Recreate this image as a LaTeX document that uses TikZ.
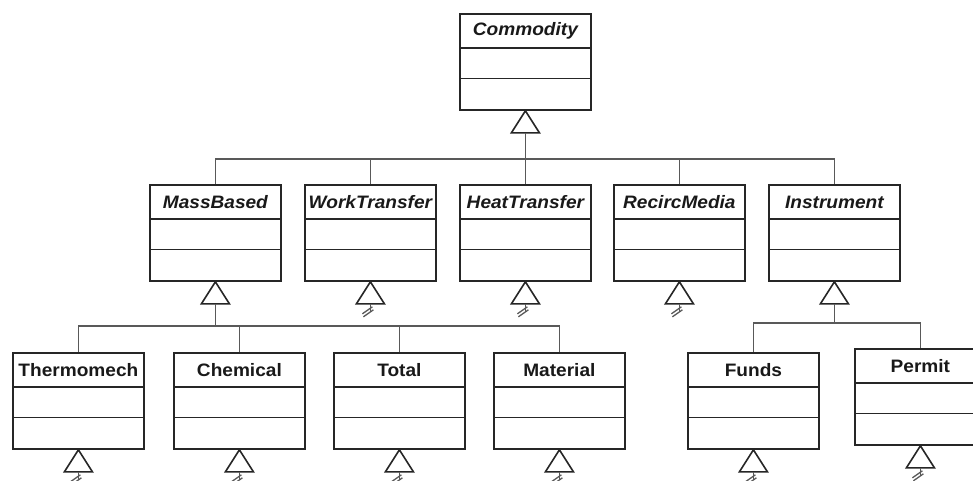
\documentclass[tikz,border=0pt]{standalone}
\usepackage{fontspec}
\setmainfont{Liberation Sans}[FakeStretch=1.06]
\usetikzlibrary{calc}
\tikzset{
  x=1pt, y=-1pt,
  classbox/.style={draw=black!85, line width=1.8pt, fill=white, rectangle, minimum width=131pt, minimum height=96pt, inner sep=0pt, anchor=north west},
  sepline/.style={draw=black!85, line width=1.6pt},
  titletext/.style={font=\fontsize{18}{18}\selectfont\bfseries, inner sep=0pt, text=black!90},
  conn/.style={draw=black!65, line width=1.3pt},
  tri/.style={draw=black!85, line width=1.6pt, fill=white, line join=miter},
}
\newcommand{\umlclass}[4]{%
  \node[classbox] (#1) at (#2) {};
  \draw[sepline] ([yshift=-35pt]#1.north west) -- ([yshift=-35pt]#1.north east);
  \draw[sepline] ([yshift=-65.5pt]#1.north west) -- ([yshift=-65.5pt]#1.north east);
  \node[titletext] (#1-t) at ([yshift=-18pt]#1.north) {#3#4};
}
\newcommand{\gen}[1]{%
  \coordinate (#1-b) at ([yshift=-22pt]#1.south);
  \draw[tri] (#1.south) -- ++(-14,22) -- ++(28,0) -- cycle;
}
\newcommand{\elide}[1]{%
  \draw[conn] (#1-b) -- ++(0,8);
  \draw[conn] ([shift={(-8,10)}]#1-b) -- ++(10,-7);
  \draw[conn] ([shift={(-7,13)}]#1-b) -- ++(10,-7);
}
\begin{document}
\begin{tikzpicture}
\useasboundingbox[fill=white] (0,0) rectangle (973,480);
% top
\umlclass{com}{459,13}{\itshape}{Commodity}
% middle row
\umlclass{mb}{149,184}{\itshape}{MassBased}
\umlclass{wt}{304,184}{\itshape}{WorkTransfer}
\umlclass{ht}{459,184}{\itshape}{HeatTransfer}
\umlclass{rm}{613,184}{\itshape}{RecircMedia}
\umlclass{ins}{768,184}{\itshape}{Instrument}
% bottom row
\umlclass{th}{12,352}{}{Thermomech}
\umlclass{ch}{173,352}{}{Chemical}
\umlclass{tot}{333,352}{}{Total}
\umlclass{mat}{493,352}{}{Material}
\umlclass{fu}{687,352}{}{Funds}
\umlclass{pe}{854,348}{}{Permit}
% generalization triangles
\gen{com}\gen{mb}\gen{wt}\gen{ht}\gen{rm}\gen{ins}
\gen{th}\gen{ch}\gen{tot}\gen{mat}\gen{fu}\gen{pe}
% buses
\coordinate (bus1) at (0,159);
\coordinate (bus2) at (0,326);
\coordinate (bus3) at (0,323);
\draw[conn] (com-b) -- (com-b |- bus1);
\draw[conn] (mb.north) |- (ins.north |- bus1) -- (ins.north);
\draw[conn] (wt.north) -- (wt.north |- bus1);
\draw[conn] (ht.north) -- (ht.north |- bus1);
\draw[conn] (rm.north) -- (rm.north |- bus1);
\draw[conn] (mb-b) -- (mb-b |- bus2);
\draw[conn] (th.north) |- (mat.north |- bus2) -- (mat.north);
\draw[conn] (ch.north) -- (ch.north |- bus2);
\draw[conn] (tot.north) -- (tot.north |- bus2);
\draw[conn] (ins-b) -- (ins-b |- bus3);
\draw[conn] (fu.north) |- (pe.north |- bus3) -- (pe.north);
% elided subclasses
\elide{wt}\elide{ht}\elide{rm}
\elide{th}\elide{ch}\elide{tot}\elide{mat}\elide{fu}\elide{pe}
\end{tikzpicture}
\end{document}
